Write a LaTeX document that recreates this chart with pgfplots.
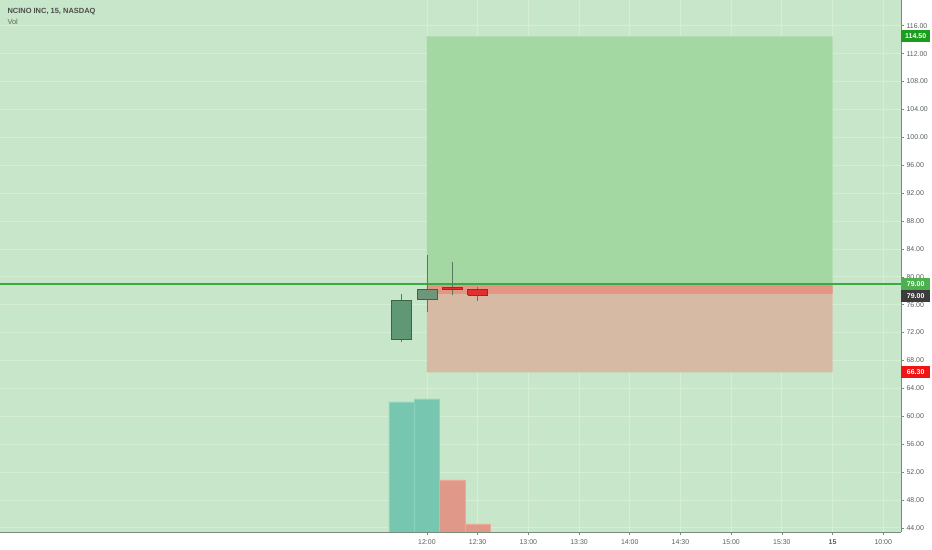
\documentclass[border=0pt]{standalone}
\usepackage{pgfplots}
\pgfplotsset{compat=1.18}
\usepackage{fontspec}
\setmainfont{Liberation Sans}

\definecolor{bg}{RGB}{200,230,201}
\definecolor{gridc}{RGB}{214,238,214}
\definecolor{axisc}{RGB}{120,140,122}
\definecolor{labc}{RGB}{85,95,88}
\definecolor{profit}{RGB}{163,216,163}
\definecolor{loss}{RGB}{214,186,164}
\definecolor{lossband}{RGB}{228,150,132}
\definecolor{entryc}{RGB}{60,170,66}
\definecolor{upbody}{RGB}{96,152,118}
\definecolor{upbody2}{RGB}{110,150,120}
\definecolor{upedge}{RGB}{60,100,75}
\definecolor{wick}{RGB}{90,120,98}
\definecolor{dnbody}{RGB}{226,48,48}
\definecolor{dnedge}{RGB}{180,30,30}
\definecolor{volup}{RGB}{118,198,176}
\definecolor{volupedge}{RGB}{140,212,192}
\definecolor{voldn}{RGB}{224,153,136}
\definecolor{voldnedge}{RGB}{236,170,154}
\definecolor{tpgreen}{RGB}{26,158,30}
\definecolor{pxgreen}{RGB}{76,175,80}
\definecolor{pxdark}{RGB}{60,60,60}
\definecolor{slred}{RGB}{240,20,20}

\begin{document}
\begin{tikzpicture}
\begin{axis}[
  scale only axis, width=901bp, height=532bp,
  xmin=-16.84, xmax=18.70, ymin=43.4, ymax=119.7,
  axis background/.style={fill=bg},
  axis x line*=bottom, axis y line*=right,
  axis line style={draw=axisc, line width=0.9pt},
  tick align=outside, major tick length=3bp,
  tick style={draw=axisc, line width=0.6pt},
  xtick={0,2,...,18},
  xticklabels={12:00,12:30,13:00,13:30,14:00,14:30,15:00,15:30,\textbf{15},10:00},
  ytick={44,48,...,116},
  y tick label style={xshift=-1bp},
  yticklabel style={/pgf/number format/.cd, fixed, fixed zerofill, precision=2},
  /pgf/number format/assume math mode=true,
  ticklabel style={font=\fontsize{7}{8}\selectfont, text=labc},
  x tick label style={yshift=-1bp},
  grid=major, major grid style={draw=gridc, line width=0.8pt},
  clip=false,
]
% position tool: profit / loss zones
\addplot[fill=profit, draw=none] coordinates {(0,79) (16,79) (16,114.5) (0,114.5) (0,79)};
\addplot[fill=loss, draw=none] coordinates {(0,66.3) (16,66.3) (16,79) (0,79) (0,66.3)};
\addplot[fill=lossband, draw=none] coordinates {(0,77.55) (16,77.55) (16,79) (0,79) (0,77.55)};
% entry line
\addplot[color=entryc, mark=none, line width=1.6pt] coordinates {(-16.84,79) (18.70,79)};
% wicks
\addplot[draw=wick, line width=0.7pt] coordinates {(-1,70.7) (-1,77.5)};
\addplot[draw=wick, line width=0.7pt] coordinates {(0,74.9) (0,83.1)};
\addplot[draw=wick, line width=0.7pt] coordinates {(1,77.35) (1,82.1)};
\addplot[draw=wick, line width=0.7pt] coordinates {(2,76.6) (2,78.5)};
% bodies
\addplot[fill=upbody, draw=upedge, line width=0.6pt] coordinates {(-1.39,71.0) (-0.61,71.0) (-0.61,76.6) (-1.39,76.6) (-1.39,71.0)};
\addplot[fill=upbody2, draw=upedge, line width=0.6pt] coordinates {(-0.39,76.8) (0.39,76.8) (0.39,78.2) (-0.39,78.2) (-0.39,76.8)};
\addplot[fill=dnbody, draw=dnedge, line width=0.6pt] coordinates {(0.61,78.2) (1.39,78.2) (1.39,78.45) (0.61,78.45) (0.61,78.2)};
\addplot[fill=dnbody, draw=dnedge, line width=0.6pt] coordinates {(1.61,77.4) (2.39,77.4) (2.39,78.2) (1.61,78.2) (1.61,77.4)};
% price scale labels
\begin{scope}[every node/.style={anchor=west, text=white, inner sep=0pt,
    minimum width=29bp, minimum height=12bp, font=\fontsize{7}{8}\selectfont\bfseries}]
\node[fill=tpgreen] at (axis cs:18.70,114.5) {114.50};
\node[fill=pxgreen] at (axis cs:18.70,79) {79.00};
\node[fill=pxdark] at (axis cs:18.70,77.2) {79.00};
\node[fill=slred] at (axis cs:18.70,66.3) {66.30};
\end{scope}
% legend text
\node[anchor=north west, font=\fontsize{7.5}{9}\selectfont\bfseries, text=black!70]
  at ([xshift=4bp,yshift=-5bp]rel axis cs:0,1) {NCINO INC, 15, NASDAQ};
\node[anchor=north west, font=\fontsize{7.5}{9}\selectfont, text=black!60]
  at ([xshift=4bp,yshift=-16bp]rel axis cs:0,1) {Vol};
\end{axis}

% volume pane overlay
\begin{axis}[
  scale only axis, width=901bp, height=532bp,
  xmin=-16.84, xmax=18.70, ymin=0, ymax=532,
  hide axis,
]
\addplot[ybar, bar width=1, fill=volup, draw=volupedge, line width=0.5pt] coordinates {(-1,130) (0,133)};
\addplot[ybar, bar width=1, fill=voldn, draw=voldnedge, line width=0.5pt] coordinates {(1,52) (2,8)};
\end{axis}
\pgfresetboundingbox
\path[use as bounding box] (0,-18bp) rectangle (932bp,532bp);
\end{tikzpicture}
\end{document}
